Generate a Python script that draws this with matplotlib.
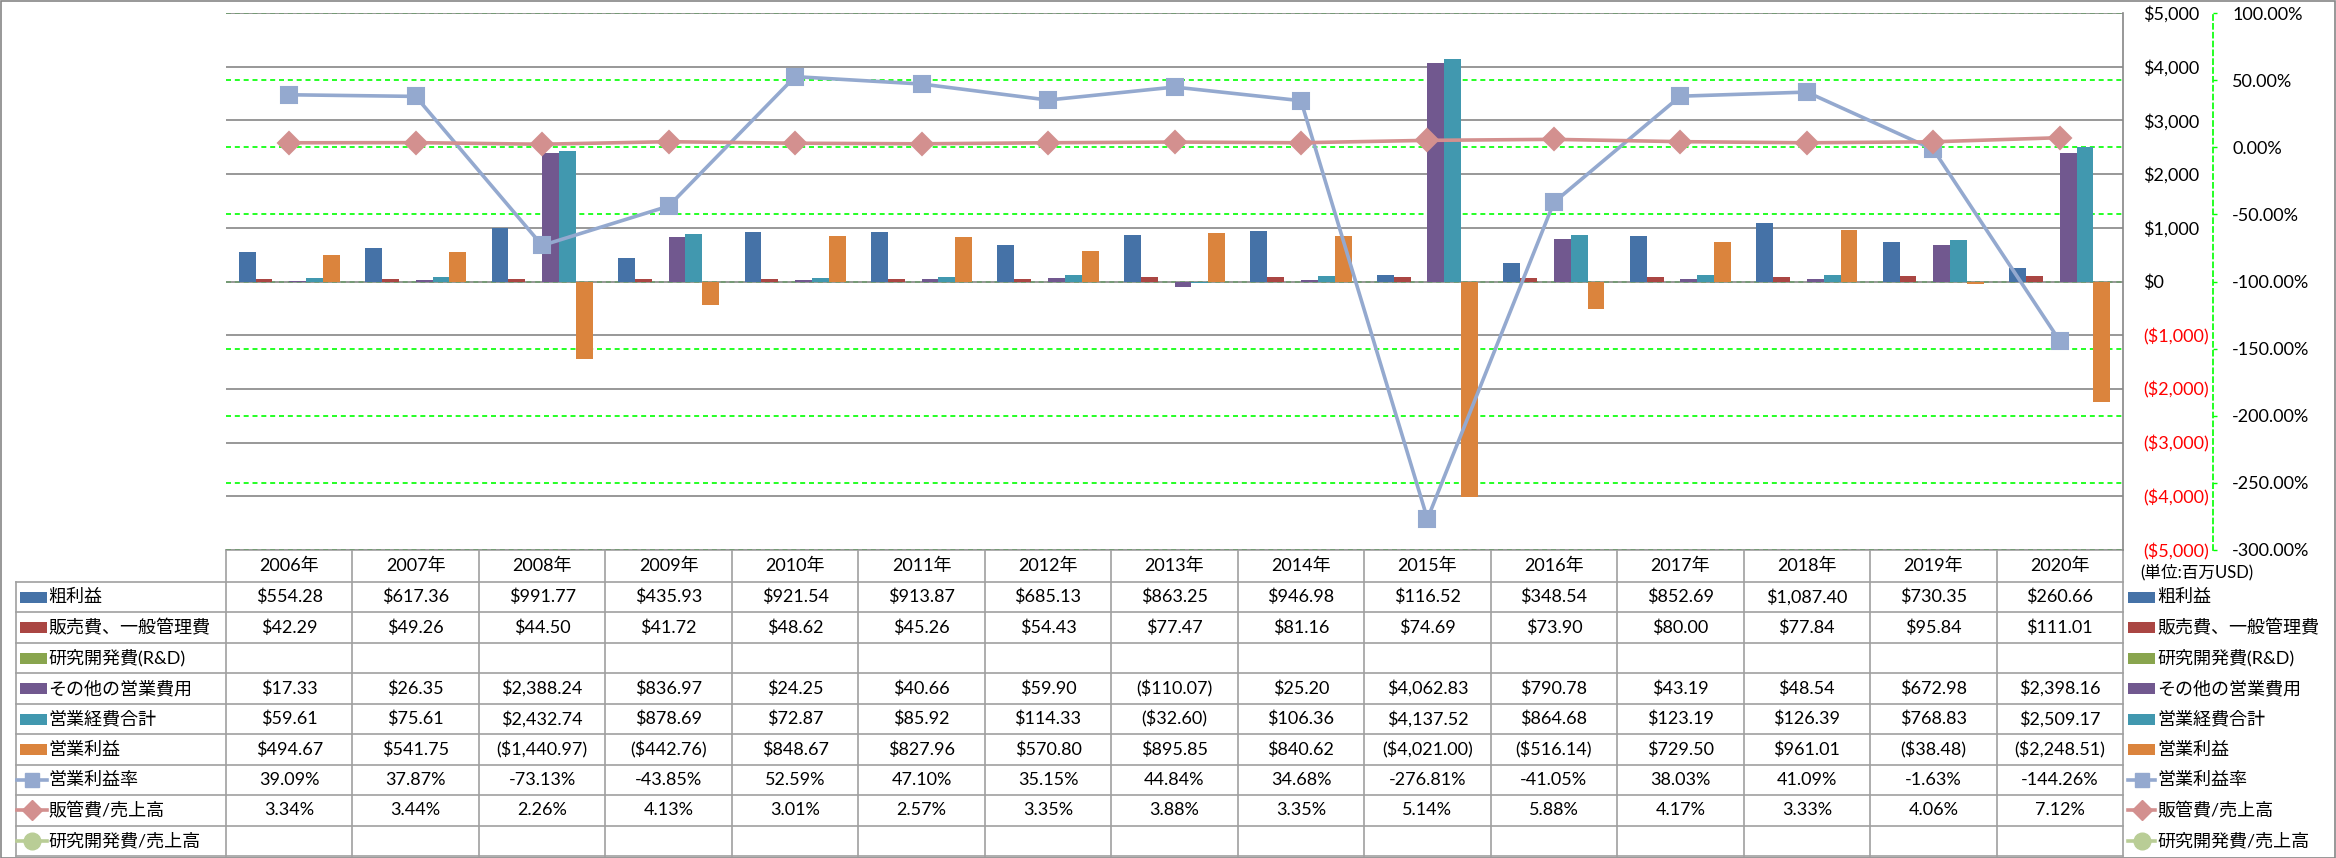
import numpy as np
import matplotlib
matplotlib.use("Agg")
import matplotlib.pyplot as plt
from matplotlib.patches import Rectangle
from matplotlib.transforms import blended_transform_factory

plt.rcParams['font.family'] = ['Lato', 'Noto Sans CJK JP']
plt.rcParams['font.size'] = 13

# --- data (単位: 百万USD) ---
years = [2006, 2007, 2008, 2009, 2010, 2011, 2012, 2013, 2014, 2015,
         2016, 2017, 2018, 2019, 2020]
gross_profit = [554.28, 617.36, 991.77, 435.93, 921.54, 913.87, 685.13, 863.25,
                946.98, 116.52, 348.54, 852.69, 1087.40, 730.35, 260.66]
sga = [42.29, 49.26, 44.50, 41.72, 48.62, 45.26, 54.43, 77.47,
       81.16, 74.69, 73.90, 80.00, 77.84, 95.84, 111.01]
rnd = [None, None, None, None, None, None, None, None,
       None, None, None, None, None, None, None]
other_opex = [17.33, 26.35, 2388.24, 836.97, 24.25, 40.66, 59.90, -110.07,
              25.20, 4062.83, 790.78, 43.19, 48.54, 672.98, 2398.16]
total_opex = [59.61, 75.61, 2432.74, 878.69, 72.87, 85.92, 114.33, -32.60,
              106.36, 4137.52, 864.68, 123.19, 126.39, 768.83, 2509.17]
op_income = [494.67, 541.75, -1440.97, -442.76, 848.67, 827.96, 570.80, 895.85,
             840.62, -4021.00, -516.14, 729.50, 961.01, -38.48, -2248.51]
op_margin = [39.09, 37.87, -73.13, -43.85, 52.59, 47.10, 35.15, 44.84,
             34.68, -276.81, -41.05, 38.03, 41.09, -1.63, -144.26]
sga_ratio = [3.34, 3.44, 2.26, 4.13, 3.01, 2.57, 3.35, 3.88,
             3.35, 5.14, 5.88, 4.17, 3.33, 4.06, 7.12]
rnd_ratio = [None, None, None, None, None, None, None, None,
             None, None, None, None, None, None, None]

usd_ticks = [-5000, -4000, -3000, -2000, -1000, 0, 1000, 2000, 3000, 4000, 5000]
pct_ticks = [-300, -250, -200, -150, -100, -50, 0, 50, 100]

bar_series = [
    ('粗利益', gross_profit, '#4572A7'),
    ('販売費、一般管理費', sga, '#AA4643'),
    ('研究開発費(R&D)', rnd, '#89A54E'),
    ('その他の営業費用', other_opex, '#71588F'),
    ('営業経費合計', total_opex, '#4198AF'),
    ('営業利益', op_income, '#DB843D'),
]
line_series = [
    ('営業利益率', op_margin, '#94A9CF', 's'),
    ('販管費/売上高', sga_ratio, '#D3908F', 'D'),
    ('研究開発費/売上高', rnd_ratio, '#B9CD96', 'o'),
]

# --- layout (pixels) ---
W, H = 2336, 858
PLOT_L, PLOT_R, PLOT_T, PLOT_B = 226, 2123, 13, 550
LAB_L = 16
HEAD_B = 582
ROW_H = (856 - HEAD_B) / 9
GRID = '#868686'
LINE_C = '#A0A0A0'
NEG = '#FF0000'
GREEN = '#00FF00'

n = len(years)
unit = (PLOT_R - PLOT_L) / n


def px2x(px):
    return (px - PLOT_L) / unit - 0.5


def to_num(vals):
    return np.array([np.nan if v is None else v for v in vals], dtype=float)


def fmt_usd(v):
    if v is None:
        return ''
    s = f"${abs(v):,.2f}"
    return f"({s})" if v < 0 else s


def fmt_pct(v):
    return '' if v is None else f"{v:.2f}%"


fig = plt.figure(figsize=(W / 100, H / 100), dpi=100)
fig.patch.set_facecolor('white')

# table / legend layer
ax_t = fig.add_axes([0, 0, 1, 1])
ax_t.set_xlim(px2x(0), px2x(W))
ax_t.set_ylim(H, 0)
ax_t.set_axis_off()

# main chart
ax = fig.add_axes([PLOT_L / W, 1 - PLOT_B / H, (PLOT_R - PLOT_L) / W, (PLOT_B - PLOT_T) / H])
ax2 = ax.twinx()
x = np.arange(n)
bw = 0.8 / len(bar_series)

for j, (name, vals, color) in enumerate(bar_series):
    ax.bar(x + (j - 2.5) * bw, to_num(vals), bw, color=color, linewidth=0, zorder=2)

for name, vals, color, mk in line_series:
    ms = 11 if mk == 's' else 11.5
    ax2.plot(x, to_num(vals), color=color, lw=2.6, marker=mk, ms=ms, mec=color,
             mew=1.5, solid_joinstyle='round', zorder=3)

ax.set_xlim(-0.5, n - 0.5)
ax.set_ylim(-5000, 5000)
ax2.set_ylim(-300, 100)
ax.set_xticks([])

ax.set_axisbelow(True)
ax.grid(axis='y', color=GRID, lw=1.2)
blend = blended_transform_factory(ax.transAxes, ax2.transData)
for t in pct_ticks:
    ax.plot([0, 1], [t, t], transform=blend, color=GREEN, lw=1.2,
            dashes=(3, 2.3), zorder=0.3)

usd_labels = [('$0' if t == 0 else (f"(${abs(t):,})" if t < 0 else f"${t:,}")) for t in usd_ticks]
ax.yaxis.tick_right()
ax.set_yticks(usd_ticks)
ax.set_yticklabels(usd_labels)
for t, lab in zip(usd_ticks, ax.get_yticklabels()):
    lab.set_color(NEG if t < 0 else 'black')
ax.tick_params(axis='y', length=0, pad=14.4, labelsize=13)

ax2.set_yticks(pct_ticks)
ax2.set_yticklabels([f"{t:.2f}%" for t in pct_ticks])
for t, lab in zip(pct_ticks, ax2.get_yticklabels()):
    lab.set_color(NEG if t < 0 else 'black')
ax2.tick_params(axis='y', length=3, width=1, color=GREEN, pad=10.8, labelsize=13)

for s in ('left', 'top', 'bottom'):
    ax.spines[s].set_visible(False)
    ax2.spines[s].set_visible(False)
ax.spines['right'].set_color(GRID)
ax.spines['right'].set_linewidth(1.2)
ax2.spines['right'].set_position(('outward', 90 * 0.72))
ax2.spines['right'].set_color(GREEN)
ax2.spines['right'].set_linewidth(1.2)
ax2.spines['right'].set_linestyle((0, (3, 2.3)))

# --- data table under the chart ---
row_tops = [HEAD_B + i * ROW_H for i in range(10)]
ax_t.plot([-0.5, n - 0.5], [PLOT_B, PLOT_B], color=LINE_C, lw=1.2)
for yy in row_tops:
    ax_t.plot([px2x(LAB_L), n - 0.5], [yy, yy], color=LINE_C, lw=1.2)
for k in range(n + 1):
    ax_t.plot([k - 0.5, k - 0.5], [PLOT_B, row_tops[-1]], color=LINE_C, lw=1.2)
ax_t.plot([px2x(LAB_L)] * 2, [HEAD_B, row_tops[-1]], color=LINE_C, lw=1.2)

for i, yr in enumerate(years):
    ax_t.text(i, (PLOT_B + HEAD_B) / 2, f"{yr}年", ha='center', va='center')

table_rows = [(nm, vals, fmt_usd, ('bar', c, None)) for nm, vals, c in bar_series]
table_rows += [(nm, vals, fmt_pct, ('line', c, mk)) for nm, vals, c, mk in line_series]


def draw_key(kind, color, mk, x0, x1, yc):
    if kind == 'bar':
        ax_t.add_patch(Rectangle((px2x(x0), yc - 5.5), (x1 - x0) / unit, 11,
                                 color=color, lw=0))
    else:
        ax_t.plot([px2x(x0), px2x(x1)], [yc, yc], color=color, lw=2.6)
        ms = {'s': 10, 'D': 10, 'o': 12}[mk]
        ax_t.plot([px2x((x0 + x1) / 2)], [yc], marker=mk, ms=ms, color=color,
                  mec=color, mew=1)


for r, (name, vals, fmt, key) in enumerate(table_rows):
    yc = (row_tops[r] + row_tops[r + 1]) / 2
    draw_key(key[0], key[1], key[2], 20 if key[0] == 'bar' else 17, 47, yc)
    ax_t.text(px2x(48), yc, name, ha='left', va='center')
    for i, v in enumerate(vals):
        ax_t.text(i, yc, fmt(v), ha='center', va='center')
    # legend on the right
    draw_key(key[0], key[1], key[2], 2128, 2155, yc)
    ax_t.text(px2x(2157), yc, name, ha='left', va='center')

ax_t.text(px2x(2140), 572, '(単位:百万USD)', ha='left', va='center', fontsize=12)

fig.patches.append(Rectangle((0.5 / W, 0.5 / H), 1 - 1.5 / W, 1 - 1.5 / H,
                             transform=fig.transFigure, fill=False, ec=GRID, lw=1.2))

fig.savefig('out.png', dpi=100, facecolor='white')
